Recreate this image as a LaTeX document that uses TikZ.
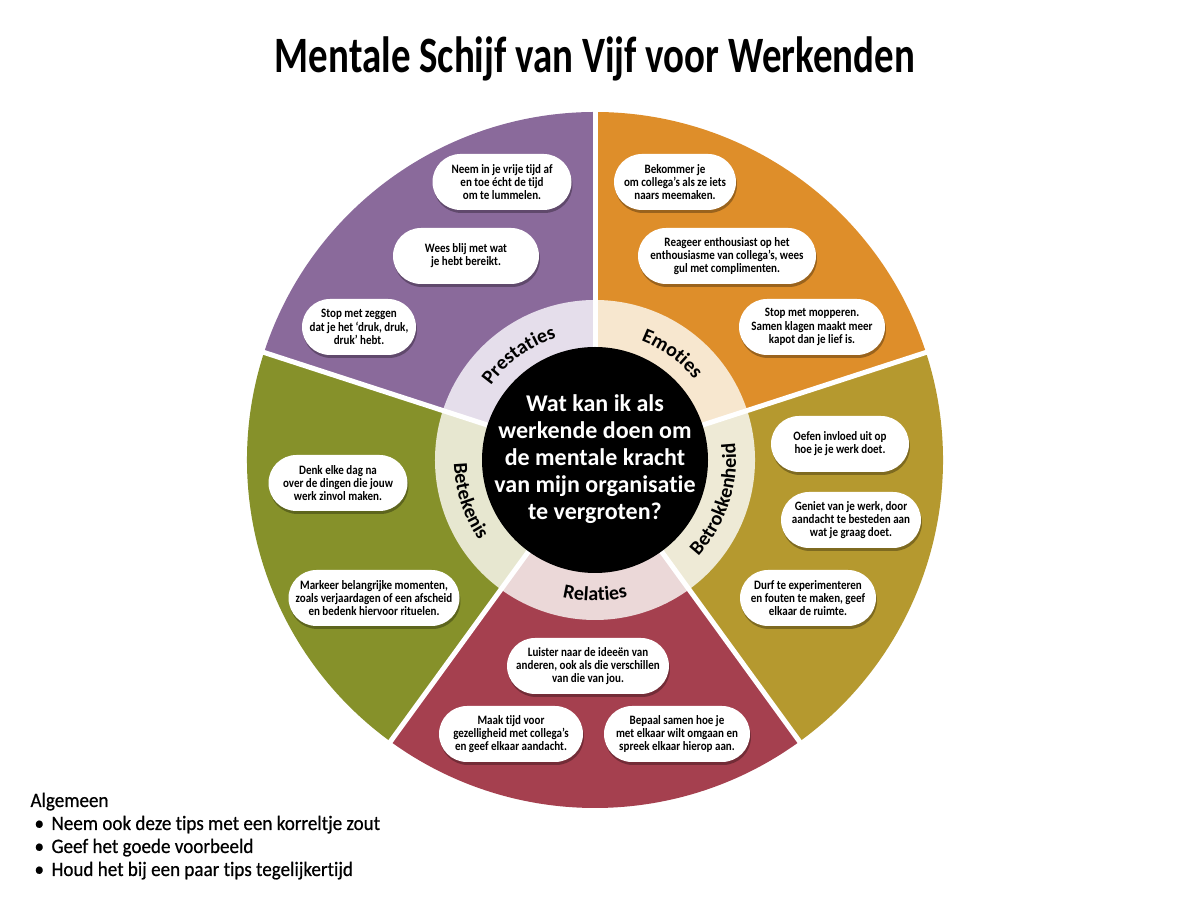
\documentclass[tikz,border=0pt]{standalone}
\usepackage{fontspec}
\usepackage{graphicx}
\setmainfont{Carlito}[Ligatures=NoCommon]
\newfontfamily\tipfont{Carlito}[Ligatures=NoCommon, FakeStretch=0.86]
\newfontfamily\legfont{Carlito}[Ligatures=NoCommon, FakeStretch=0.93, FakeBold=0.6]
\usetikzlibrary{shapes.misc,shadows,decorations.text}
\definecolor{pur}{HTML}{8A6A9B}
\definecolor{purl}{HTML}{E5DEEB}
\definecolor{ora}{HTML}{DE8E2A}
\definecolor{oral}{HTML}{F7E7CF}
\definecolor{gol}{HTML}{B5992F}
\definecolor{goll}{HTML}{EEEAD6}
\definecolor{rd}{HTML}{A5404F}
\definecolor{rdl}{HTML}{EBD8D8}
\definecolor{grn}{HTML}{86912A}
\definecolor{grnl}{HTML}{E7E7D0}
\begin{document}
\begin{tikzpicture}[x=1pt,y=1pt,
  tip/.style={rounded rectangle, fill=white, minimum height=56pt, inner sep=2pt, align=center,
    font=\tipfont\fontsize{12.8}{13.2}\selectfont\bfseries,
    drop shadow={shadow xshift=1pt, shadow yshift=-3pt, opacity=0.3, fill=black}},
  sep/.style={white, line width=5pt},
  legend/.style={anchor=base west, font=\legfont\fontsize{20.5}{20.5}\selectfont}
]
\useasboundingbox (0,0) rectangle (1200,920);
\coordinate (C) at (595,460);
% outer wedges
\fill[pur] (C) -- ++(90:348pt) arc[start angle=90, end angle=162, radius=348pt] -- cycle;
\fill[ora] (C) -- ++(18:348pt) arc[start angle=18, end angle=90, radius=348pt] -- cycle;
\fill[gol] (C) -- ++(-54:348pt) arc[start angle=-54, end angle=18, radius=348pt] -- cycle;
\fill[rd] (C) -- ++(-126:348pt) arc[start angle=-126, end angle=-54, radius=348pt] -- cycle;
\fill[grn] (C) -- ++(162:348pt) arc[start angle=162, end angle=234, radius=348pt] -- cycle;
% inner ring
\fill[purl] (C) -- ++(90:160pt) arc[start angle=90, end angle=162, radius=160pt] -- cycle;
\fill[oral] (C) -- ++(18:160pt) arc[start angle=18, end angle=90, radius=160pt] -- cycle;
\fill[goll] (C) -- ++(-54:160pt) arc[start angle=-54, end angle=18, radius=160pt] -- cycle;
\fill[rdl] (C) -- ++(-126:160pt) arc[start angle=-126, end angle=-54, radius=160pt] -- cycle;
\fill[grnl] (C) -- ++(162:160pt) arc[start angle=162, end angle=234, radius=160pt] -- cycle;
% separators
\foreach \a in {90,18,-54,-126,162} \draw[sep] (C) -- ++(\a:352pt);
% centre
\node[circle, fill=black, minimum size=226pt, inner sep=0pt] (core) at (C) {};
\node[text=white, align=center, font=\fontsize{24}{27}\selectfont\bfseries] (question) at (595,461)
  {Wat kan ik als\\werkende doen om\\de mentale kracht\\van mijn organisatie\\te vergroten?};
% ring labels
\path[decorate, decoration={text along path, text align=center, text={|\fontsize{20}{20}\selectfont\bfseries|Prestaties}}]
  ([shift={(161:128pt)}]C) arc[start angle=161, end angle=91, radius=128pt];
\path[decorate, decoration={text along path, text align=center, text={|\fontsize{20}{20}\selectfont\bfseries|Emoties}}]
  ([shift={(89:128pt)}]C) arc[start angle=89, end angle=19, radius=128pt];
\path[decorate, decoration={text along path, text align=center, text={|\fontsize{20}{20}\selectfont\bfseries|Betrokkenheid}}]
  ([shift={(-53:141pt)}]C) arc[start angle=-53, end angle=17, radius=141pt];
\path[decorate, decoration={text along path, text align=center, text={|\fontsize{20}{20}\selectfont\bfseries|Relaties}}]
  ([shift={(-125:141pt)}]C) arc[start angle=-125, end angle=-55, radius=141pt];
\path[decorate, decoration={text along path, text align=center, text={|\fontsize{20}{20}\selectfont\bfseries|Betekenis}}]
  ([shift={(163:141pt)}]C) arc[start angle=163, end angle=233, radius=141pt];
% tips: Prestaties
\node[tip, minimum width=143pt] (p1) at (502,738) {Neem in je vrije tijd af\\en toe écht de tijd\\om te lummelen.};
\node[tip, minimum width=150pt] (p2) at (466,664) {Wees blij met wat\\je hebt bereikt.};
\node[tip, minimum width=118pt] (p3) at (359,593) {Stop met zeggen\\dat je het ‘druk, druk,\\druk’ hebt.};
% Emoties
\node[tip, minimum width=126pt] (e1) at (675,738) {Bekommer je\\om collega’s als ze iets\\naars meemaken.};
\node[tip, minimum width=182pt] (e2) at (727,664) {Reageer enthousiast op het\\enthousiasme van collega’s, wees\\gul met complimenten.};
\node[tip, minimum width=150pt] (e3) at (812,593) {Stop met mopperen.\\Samen klagen maakt meer\\kapot dan je lief is.};
% Betrokkenheid
\node[tip, minimum width=142pt] (b1) at (840,476) {Oefen invloed uit op\\hoe je je werk doet.};
\node[tip, minimum width=144pt] (b2) at (851,400) {Geniet van je werk, door\\aandacht te besteden aan\\wat je graag doet.};
\node[tip, minimum width=140pt] (b3) at (808,322) {Durf te experimenteren\\en fouten te maken, geef\\elkaar de ruimte.};
% Betekenis
\node[tip, minimum width=143pt] (k1) at (338,437) {Denk elke dag na\\over de dingen die jouw\\werk zinvol maken.};
\node[tip, minimum width=175pt] (k2) at (374,322) {Markeer belangrijke momenten,\\zoals verjaardagen of een afscheid\\en bedenk hiervoor rituelen.};
% Relaties
\node[tip, minimum width=160pt] (r1) at (588,254) {Luister naar de ideeën van\\anderen, ook als die verschillen\\van die van jou.};
\node[tip, minimum width=148pt] (r2) at (511,186) {Maak tijd voor\\gezelligheid met collega’s\\en geef elkaar aandacht.};
\node[tip, minimum width=150pt] (r3) at (677,186) {Bepaal samen hoe je\\met elkaar wilt omgaan en\\spreek elkaar hierop aan.};
% title
\node[anchor=base] (title) at (595,847)
  {\resizebox{640pt}{\height}{\fontsize{51}{51}\selectfont\bfseries Mentale Schijf van Vijf voor Werkenden}};
% legend
\node[legend] (lg0) at (27,113) {Algemeen};
\node[legend] (lg1) at (27,90) {\makebox[21pt][l]{\hspace{4pt}•}Neem ook deze tips met een korreltje zout};
\node[legend] (lg2) at (27,67) {\makebox[21pt][l]{\hspace{4pt}•}Geef het goede voorbeeld};
\node[legend] (lg3) at (27,44) {\makebox[21pt][l]{\hspace{4pt}•}Houd het bij een paar tips tegelijkertijd};
\end{tikzpicture}
\end{document}
